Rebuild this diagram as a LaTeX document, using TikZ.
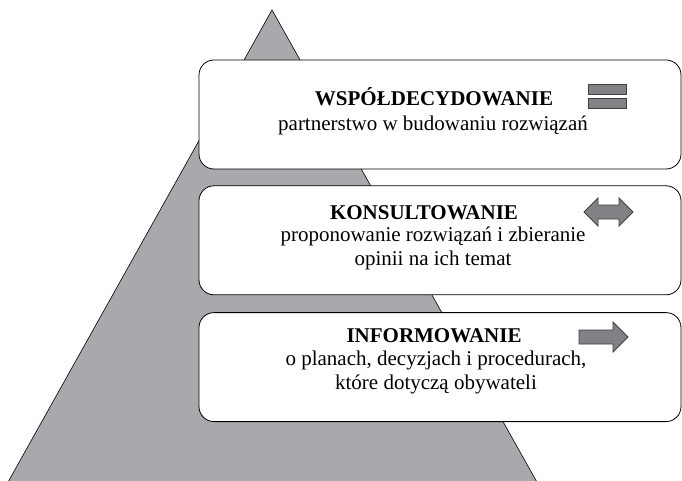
\documentclass[tikz,border=0pt]{standalone}
\usepackage{fontspec}
\setmainfont{Liberation Serif}
\usetikzlibrary{
    arrows,
    %backgrounds,
    calc,
    positioning,
    shapes,
}

\definecolor{pyrgray}{RGB}{167,169,172}
\definecolor{icongray}{RGB}{128,130,133}

\begin{document}
\begin{tikzpicture}[
        x=1pt, y=-1pt,
        pyramid/.style={draw=black, fill=pyrgray, line width=0.6pt},
        level/.style={rectangle, rounded corners=15pt, draw=black, fill=white, line width=0.8pt,
            minimum width=482pt, minimum height=109pt, inner sep=0pt},
        head/.style={font=\fontsize{21}{24}\selectfont\bfseries, inner sep=0pt, anchor=base},
        desc/.style={font=\fontsize{21}{24}\selectfont, align=center, inner sep=0pt, anchor=base},
        icon/.style={draw=black!75, fill=icongray, line width=0.8pt, line join=miter},
        ]
        \useasboundingbox (0,0) rectangle (682,481);
        \clip (0,0) rectangle (682,481);
        \draw[pyramid] (272,10) -- (-2,500) -- (547,500) -- cycle;
        \node[level] (WSP) at (440,114.5) {};
        \node[level] (KON) [below=16pt of WSP] {};
        \node[level] (INF) [below=17pt of KON] {};
        \node[head] (WSPT) at (434,106) {WSPÓŁDECYDOWANIE};
        \node[desc] (WSPD) at (433,131) {partnerstwo w budowaniu rozwiązań};
        \node[head] (KONT) at (424,219) {KONSULTOWANIE};
        \node[desc] (KOND) at (433,265) {proponowanie rozwiązań i zbieranie\\opinii na ich temat};
        \node[head] (INFT) at (434,342) {INFORMOWANIE};
        \node[desc] (INFD) at (436,389) {o planach, decyzjach i procedurach,\\które dotyczą obywateli};
        \node[icon, minimum width=38pt, minimum height=10pt, inner sep=0pt] (EQA) at (607.5,89) {};
        \node[icon, minimum width=38pt, minimum height=10pt, inner sep=0pt] (EQB) at (607.5,103.5) {};
        \draw[icon] (584,212) -- (598,198) -- (598,205) -- (619,205) -- (619,198) -- (633,212)
            -- (619,226) -- (619,219) -- (598,219) -- (598,226) -- cycle;
        \draw[icon] (579,330) -- (613,330) -- (613,322) -- (628,337) -- (613,352) -- (613,344)
            -- (579,344) -- cycle;
    \end{tikzpicture}
\end{document}
